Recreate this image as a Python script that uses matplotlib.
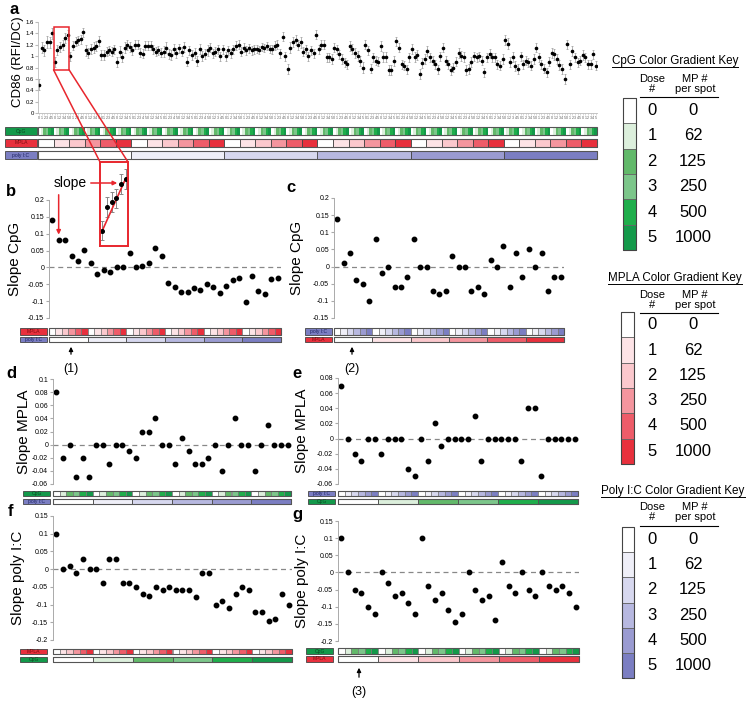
import numpy as np
import matplotlib.pyplot as plt
from matplotlib.patches import Rectangle, ConnectionPatch, FancyArrowPatch
from matplotlib.lines import Line2D
from matplotlib.ticker import FuncFormatter

plt.rcParams['font.family'] = ['Liberation Sans', 'DejaVu Sans']

# dose levels and colours
dose_ids = [0, 1, 2, 3, 4, 5]
mp_per_spot = [0, 62, 125, 250, 500, 1000]
cpg_colors = ['#ffffff', '#dcefdc', '#62b96a', '#7cc68a', '#1fae4b', '#13994a']
mpla_colors = ['#ffffff', '#fde3e6', '#fbc8cd', '#f4959e', '#ee5c69', '#e8303d']
polyic_colors = ['#ffffff', '#efeff8', '#d7d8ef', '#b7b8e0', '#9a9bd1', '#7b7ec2']

# panel a: CD86 (RFI/DC), 36 groups of 6 CpG doses
cd86 = [
    [0.50, 1.15, 1.10, 1.25, 1.24, 1.40], [0.90, 1.11, 1.16, 1.19, 1.32, 1.37],
    [1.00, 1.18, 1.25, 1.28, 1.30, 1.42], [1.10, 1.05, 1.12, 1.15, 1.18, 1.26],
    [1.02, 1.02, 1.08, 1.10, 1.08, 1.12], [0.90, 1.08, 0.98, 1.15, 1.20, 1.16],
    [1.10, 1.20, 1.20, 1.06, 1.04, 1.18], [1.18, 1.18, 1.12, 1.08, 1.10, 1.06],
    [1.08, 1.15, 1.04, 1.02, 1.12, 1.06], [1.14, 1.08, 1.16, 0.90, 1.10, 1.02],
    [1.05, 0.92, 1.12, 1.00, 1.04, 1.10], [1.15, 1.05, 1.08, 1.12, 1.00, 1.12],
    [1.00, 1.10, 1.05, 1.12, 1.18, 1.20], [1.08, 1.15, 1.10, 1.14, 1.10, 1.12],
    [1.12, 1.10, 1.16, 1.14, 1.18, 1.12], [1.12, 1.18, 1.20, 1.05, 1.34, 1.00],
    [0.78, 1.15, 1.25, 1.28, 1.20, 1.24], [1.08, 1.12, 1.00, 1.10, 1.05, 1.38],
    [1.12, 1.20, 1.20, 0.98, 0.98, 0.95], [1.15, 1.12, 1.03, 0.95, 0.89, 0.86],
    [1.18, 1.12, 1.06, 1.00, 0.92, 0.80], [1.20, 1.10, 0.78, 0.98, 0.92, 0.90],
    [1.18, 0.98, 0.98, 0.75, 0.75, 0.92], [1.26, 1.15, 0.86, 0.83, 0.77, 0.98],
    [1.12, 0.98, 1.02, 0.68, 0.88, 0.95], [1.09, 0.98, 0.92, 0.86, 0.77, 1.00],
    [1.15, 0.92, 0.86, 0.75, 0.80, 0.90], [1.06, 1.00, 0.98, 0.75, 0.78, 0.90],
    [1.00, 0.98, 1.00, 0.92, 0.72, 0.98], [1.04, 0.98, 0.98, 0.86, 0.83, 0.95],
    [1.28, 1.22, 0.90, 0.98, 0.83, 0.78], [1.00, 0.86, 0.92, 0.89, 0.83, 0.95],
    [1.15, 0.98, 0.86, 0.78, 0.72, 0.90], [1.06, 1.03, 0.95, 0.85, 0.77, 0.60],
    [1.21, 0.86, 1.09, 0.98, 0.89, 0.92], [1.02, 0.98, 0.86, 0.86, 1.03, 0.83],
]
cd86_err = [0.10, 0.09, 0.08, 0.09, 0.08, 0.09, 0.08, 0.08, 0.09, 0.08, 0.09, 0.08,
            0.08, 0.08, 0.07, 0.08, 0.09, 0.08, 0.08, 0.08, 0.09, 0.08, 0.09, 0.08,
            0.09, 0.08, 0.08, 0.09, 0.08, 0.08, 0.09, 0.08, 0.08, 0.09, 0.08, 0.08]

# panels b-g: slopes
slope_cpg_b = [0.14, 0.08, 0.08, 0.035, 0.02, 0.052, 0.012, -0.02, -0.007, -0.015, 0.0, 0.0,
               0.043, 0.0, 0.005, 0.012, 0.057, 0.035, -0.046, -0.058, -0.072, -0.073, -0.062, -0.066,
               -0.05, -0.058, -0.077, -0.055, -0.038, -0.031, -0.102, -0.026, -0.07, -0.08, -0.034, -0.031]
slope_cpg_c = [0.14, 0.01, 0.04, -0.04, -0.05, -0.1, 0.08, -0.02, 0.0, -0.06, -0.06, -0.03,
               0.08, 0.0, 0.0, -0.07, -0.08, -0.07, 0.03, 0.0, 0.0, -0.07, -0.06, -0.08,
               0.02, 0.0, 0.06, -0.06, 0.04, -0.03, 0.05, 0.0, 0.04, -0.07, -0.03, -0.03]
slope_mpla_d = [0.08, -0.02, 0.0, -0.05, -0.02, -0.05, 0.0, 0.0, -0.03, 0.0, 0.0, -0.01,
                -0.02, 0.02, 0.02, 0.04, 0.0, 0.0, -0.03, 0.01, -0.01, -0.03, -0.03, -0.02,
                0.0, -0.04, 0.0, 0.04, 0.0, 0.0, -0.04, 0.0, 0.03, 0.0, 0.0, 0.0]
slope_mpla_e = [0.07, 0.0, -0.02, -0.03, 0.0, 0.0, -0.02, 0.0, 0.0, 0.0, -0.04, -0.05,
                0.0, -0.03, 0.02, -0.01, 0.0, 0.0, 0.0, 0.0, 0.03, -0.03, 0.0, 0.0,
                0.0, 0.0, 0.0, -0.03, 0.04, 0.04, -0.05, 0.0, 0.0, 0.0, 0.0, 0.0]
slope_polyic_f = [0.1, 0.0, 0.01, -0.01, 0.03, 0.0, 0.0, -0.04, 0.03, 0.03, -0.04, -0.04,
                  -0.05, -0.07, -0.075, -0.05, -0.06, -0.05, -0.06, -0.06, -0.06, -0.08, -0.01, -0.01,
                  -0.1, -0.09, -0.11, -0.07, -0.05, -0.06, -0.12, -0.12, -0.145, -0.14, -0.07, -0.1]
slope_polyic_g = [0.1, 0.0, -0.05, -0.06, -0.1, -0.12, 0.0, -0.03, -0.07, -0.06, -0.09, -0.12,
                  0.1, -0.04, -0.08, -0.06, -0.11, -0.145, -0.12, 0.0, -0.05, -0.08, -0.07, -0.14,
                  0.03, -0.04, -0.06, 0.0, -0.05, -0.07, 0.0, -0.04, -0.05, -0.04, -0.06, -0.1]

W, H = 750, 701
RED = '#e8262d'
fig = plt.figure(figsize=(W / 100, H / 100), dpi=100)


def box(x0, y0, x1, y1):
    return [x0 / W, 1 - y1 / H, (x1 - x0) / W, (y1 - y0) / H]


def fx(x):
    return x / W


def fy(y):
    return 1 - y / H


def cell_row(x0, y0, x1, y1, doses, width, colors, xlim, ec='#666666', lw=0.5, outline='#555555'):
    ax = fig.add_axes(box(x0, y0, x1, y1))
    for i, d in enumerate(doses):
        ax.add_patch(Rectangle((xlim[0] + i * width, 0), width, 1, fc=colors[d],
                               ec=ec, lw=lw, clip_on=False))
    if outline:
        ax.add_patch(Rectangle((xlim[0], 0), xlim[1] - xlim[0], 1, fill=False,
                               ec=outline, lw=0.8, clip_on=False))
    ax.set_xlim(xlim)
    ax.set_ylim(0, 1)
    ax.axis('off')
    return ax


def row_label(x0, y0, x1, y1, text, fc, tc):
    fig.add_artist(Rectangle((fx(x0), fy(y1)), (x1 - x0) / W, (y1 - y0) / H,
                             transform=fig.transFigure, fc=fc, ec='#444444', lw=0.6))
    fig.text(fx((x0 + x1) / 2), fy((y0 + y1) / 2), text, ha='center', va='center',
             fontsize=3.6, color=tc)


label_style = {'CpG': (cpg_colors[5], '#0a4a22'),
               'MPLA': (mpla_colors[5], '#7a0d12'),
               'poly I:C': (polyic_colors[5], '#1c2160')}
agent_colors = {'CpG': cpg_colors, 'MPLA': mpla_colors, 'poly I:C': polyic_colors}
fmt = FuncFormatter(lambda v, p: f'{v:g}')

# ---------------- panel a ----------------
vals = np.array(cd86).ravel()
errs = np.repeat(cd86_err, 6)
xa = np.arange(len(vals))
ax_a = fig.add_axes(box(38, 22, 597, 113))
ax_a.patch.set_alpha(0)
ax_a.errorbar(xa, vals, yerr=errs, fmt='o', ms=1.6, color='black', ecolor='#999999',
              elinewidth=0.5, capsize=0.8, capthick=0.5)
ax_a.set_xlim(-0.5, 215.5)
ax_a.set_ylim(0, 1.6)
ax_a.set_yticks([0, 0.2, 0.4, 0.6, 0.8, 1, 1.2, 1.4, 1.6])
ax_a.yaxis.set_major_formatter(fmt)
ax_a.set_xticks(xa)
ax_a.set_xticklabels([str(d) for d in np.tile(dose_ids, 36)], fontsize=2.6, color='#555555')
ax_a.tick_params(axis='x', length=1.2, pad=1, color='#bbbbbb', width=0.4)
ax_a.tick_params(axis='y', labelsize=4.3, length=2, pad=1, color='#bbbbbb')
for s in ['top', 'right']:
    ax_a.spines[s].set_visible(False)
for s in ['left', 'bottom']:
    ax_a.spines[s].set_color('#bbbbbb')
    ax_a.spines[s].set_linewidth(0.6)
fig.text(fx(18), fy(62), 'CD86 (RFI/DC)', rotation=90, ha='center', va='center', fontsize=9.5)
fig.text(fx(14), fy(10), 'a', ha='center', va='center', fontsize=12, fontweight='bold')

xl_a = (-0.5, 215.5)
cell_row(38, 127, 597, 135, np.tile(dose_ids, 36), 1, cpg_colors, xl_a, ec='none', lw=0)
cell_row(38, 139, 597, 147, np.tile(dose_ids, 6), 6, mpla_colors, xl_a, ec='#444444', lw=0.6)
cell_row(38, 151, 597, 159, dose_ids, 36, polyic_colors, xl_a, ec='#444444', lw=0.6)
for name, (y0, y1) in zip(['CpG', 'MPLA', 'poly I:C'], [(127, 135), (139, 147), (151, 159)]):
    row_label(5, y0, 37, y1, name, *label_style[name])

# zoom box in panel a
ax_a.add_patch(Rectangle((5.5, 0.76), 6, 0.76, fill=False, ec=RED, lw=1.1, clip_on=False, zorder=5))


# ---------------- panels b-g ----------------
def slope_panel(x0, y0, x1, y1, values, ylim, yticks, ylabel, ylab_x, letter, letter_xy,
                top_agent, bottom_agent, rows_y, lab_x):
    ax = fig.add_axes(box(x0, y0, x1, y1))
    ax.patch.set_alpha(0)
    ax.plot(np.arange(len(values)), values, 'o', color='black', ms=3.2)
    ax.axhline(0, color='#888888', ls=(0, (4, 3)), lw=0.9, zorder=0)
    ax.set_xlim(-0.5, 35.5)
    ax.set_ylim(ylim)
    ax.set_yticks(yticks)
    ax.yaxis.set_major_formatter(fmt)
    ax.set_xticks([])
    ax.tick_params(axis='y', labelsize=5, length=2, pad=1.5, color='#aaaaaa')
    for s in ['top', 'right', 'bottom']:
        ax.spines[s].set_visible(False)
    ax.spines['left'].set_color('#aaaaaa')
    ax.spines['left'].set_linewidth(0.7)
    fig.text(fx(ylab_x), fy((y0 + y1) / 2), ylabel, rotation=90, ha='center', va='center',
             fontsize=11)
    fig.text(fx(letter_xy[0]), fy(letter_xy[1]), letter, ha='center', va='center',
             fontsize=12, fontweight='bold')
    (ra0, ra1), (rb0, rb1) = rows_y
    cell_row(x0, ra0, x1, ra1, np.tile(dose_ids, 6), 1, agent_colors[top_agent], (-0.5, 35.5),
             ec='#777777', lw=0.5)
    cell_row(x0, rb0, x1, rb1, dose_ids, 6, agent_colors[bottom_agent], (-0.5, 35.5),
             ec='#555555', lw=0.7)
    row_label(lab_x[0], ra0, lab_x[1], ra1, top_agent, *label_style[top_agent])
    row_label(lab_x[0], rb0, lab_x[1], rb1, bottom_agent, *label_style[bottom_agent])
    return ax


yt_cpg = [-0.15, -0.1, -0.05, 0, 0.05, 0.1, 0.15, 0.2]
yt_pic = [-0.2, -0.15, -0.1, -0.05, 0, 0.05, 0.1, 0.15]
ax_b = slope_panel(49, 200, 281, 318, slope_cpg_b, (-0.15, 0.2), yt_cpg, 'Slope CpG', 15, 'b',
                   (11, 192), 'MPLA', 'poly I:C', [(328, 335), (337, 342)], (20, 47))
slope_panel(334, 198, 564, 318, slope_cpg_c, (-0.15, 0.2), yt_cpg, 'Slope CpG', 297, 'c',
            (291, 188), 'poly I:C', 'MPLA', [(328, 335), (337, 342)], (305, 332))
slope_panel(53, 379, 291, 484, slope_mpla_d, (-0.06, 0.1),
            [-0.06, -0.04, -0.02, 0, 0.02, 0.04, 0.06, 0.08, 0.1], 'Slope MPLA', 24, 'd',
            (11, 373), 'CpG', 'poly I:C', [(491, 496), (499, 504)], (23, 50))
slope_panel(338, 378, 578, 484, slope_mpla_e, (-0.06, 0.08),
            [-0.06, -0.04, -0.02, 0, 0.02, 0.04, 0.06, 0.08], 'Slope MPLA', 302, 'e',
            (297, 374), 'poly I:C', 'CpG', [(491, 496), (499, 504)], (308, 335))
slope_panel(53, 516, 292, 640, slope_polyic_f, (-0.2, 0.15), yt_pic, 'Slope poly I:C', 18, 'f',
            (10, 511), 'MPLA', 'CpG', [(649, 654), (657, 662)], (20, 47))
slope_panel(338, 521, 579, 641, slope_polyic_g, (-0.2, 0.15), yt_pic, 'Slope poly I:C', 302, 'g',
            (297, 514), 'CpG', 'MPLA', [(648, 654), (656, 662)], (306, 333))

# inset: zoom of group 1 from panel a
ax_in = fig.add_axes(box(100, 162, 128, 246))
ax_in.set_zorder(20)
g1 = np.array(cd86[1])
xi = np.arange(6, 12)
ax_in.errorbar(xi, g1, yerr=cd86_err[1], fmt='o', ms=2.6, color='black', ecolor='#888888',
               elinewidth=0.7, capsize=1.2, capthick=0.7)
ax_in.plot([xi[0], xi[-1]], [g1[0], g1[-1]], color=RED, lw=1.2)
ax_in.set_xlim(5.5, 11.5)
ax_in.set_ylim(0.76, 1.52)
ax_in.set_xticks([])
ax_in.set_yticks([])
for s in ax_in.spines.values():
    s.set_color(RED)
    s.set_linewidth(1.4)
for xa_, xb_ in [((5.5, 0.76), (0, 1)), ((11.5, 0.76), (1, 1))]:
    cp = ConnectionPatch(xyA=xa_, coordsA=ax_a.transData, xyB=xb_, coordsB=ax_in.transAxes,
                         color=RED, lw=1.1)
    cp.set_zorder(25)
    fig.add_artist(cp)

# "slope" annotation
fig.text(fx(70), fy(183), 'slope', ha='center', va='center', fontsize=10)
ax_b.annotate('', xy=(1, slope_cpg_b[1] + 0.009), xytext=(1, fy(192)),
              textcoords=('data', 'figure fraction'),
              arrowprops=dict(arrowstyle='-|>', color=RED, lw=1.1, mutation_scale=6))
arr = FancyArrowPatch((fx(88), fy(183)), (fx(120), fy(183)), transform=fig.transFigure,
                      arrowstyle='-|>', mutation_scale=6, color=RED, lw=1.1)
arr.set_zorder(30)
fig.add_artist(arr)

# reference arrows (1) (2) (3)
for x, tip, tail, ty, lab in [(71, 344, 357, 369, '(1)'), (352, 344, 357, 369, '(2)'),
                              (359, 665, 680, 692, '(3)')]:
    fig.add_artist(FancyArrowPatch((fx(x), fy(tail)), (fx(x), fy(tip)), transform=fig.transFigure,
                                   arrowstyle='-|>', mutation_scale=6, color='black', lw=0.9))
    fig.text(fx(x), fy(ty), lab, ha='center', va='center', fontsize=9)

# ---------------- colour keys ----------------
renderer = fig.canvas.get_renderer()


def color_key(title, colors, title_xy, hdr_y, ul_y, bar):
    t = fig.text(fx(title_xy[0]), fy(title_xy[1]), title, ha='center', va='center', fontsize=8.4)
    bb = t.get_window_extent(renderer)
    fig.add_artist(Line2D([bb.x0 / W, bb.x1 / W], [fy(title_xy[1] + 5.5)] * 2,
                          transform=fig.transFigure, color='black', lw=0.7))
    fig.text(fx(652), fy(hdr_y), 'Dose\n#', ha='center', va='center', fontsize=8, linespacing=0.9)
    fig.text(fx(695), fy(hdr_y), 'MP #\nper spot', ha='center', va='center', fontsize=8,
             linespacing=0.9)
    fig.add_artist(Line2D([fx(640), fx(718)], [fy(ul_y)] * 2, transform=fig.transFigure,
                          color='black', lw=0.8))
    bx0, by0, bx1, by1 = bar
    ax = fig.add_axes(box(bx0, by0, bx1, by1))
    for i, d in enumerate(dose_ids):
        ax.add_patch(Rectangle((0, 5 - i), 1, 1, fc=colors[d], ec='#666666', lw=0.6, clip_on=False))
        yc = by0 + (i + 0.5) * (by1 - by0) / 6
        fig.text(fx(652), fy(yc), str(d), ha='center', va='center', fontsize=12)
        fig.text(fx(693), fy(yc), str(mp_per_spot[i]), ha='center', va='center', fontsize=12)
    ax.add_patch(Rectangle((0, 0), 1, 6, fill=False, ec='#444444', lw=0.8, clip_on=False))
    ax.set_xlim(0, 1)
    ax.set_ylim(0, 6)
    ax.axis('off')


color_key('CpG Color Gradient Key', cpg_colors, (675, 61), 84, 97, (623, 98, 636, 250))
color_key('MPLA Color Gradient Key', mpla_colors, (675, 278), 300, 313, (621, 312, 634, 464))
color_key('Poly I:C Color Gradient Key', polyic_colors, (673, 491), 512, 526, (622, 527, 634, 678))

fig.savefig('out.png', dpi=100, facecolor='white')
